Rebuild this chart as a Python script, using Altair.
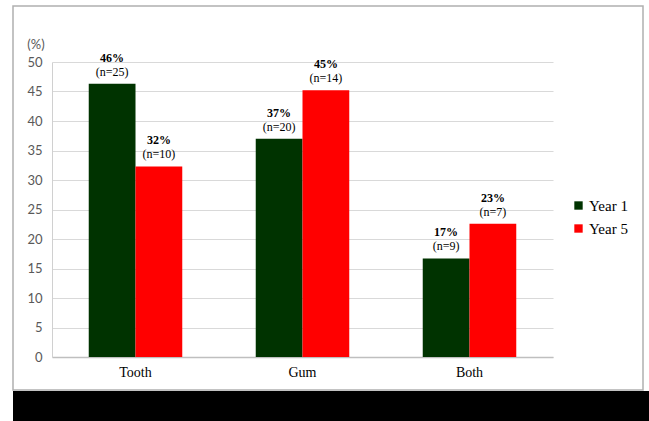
import altair as alt
import pandas as pd

categories = ["Tooth", "Gum", "Both"]
series = ["Year 1", "Year 5"]
year1 = [46.3, 37.0, 16.7]
year5 = [32.3, 45.2, 22.6]
year1_pct = ["46%", "37%", "17%"]
year5_pct = ["32%", "45%", "23%"]
year1_n = ["(n=25)", "(n=20)", "(n=9)"]
year5_n = ["(n=10)", "(n=14)", "(n=7)"]
colors = ["#003300", "#ff0000"]

rows = []
for i, c in enumerate(categories):
    rows.append({"cat": c, "year": "Year 1", "value": year1[i], "pct": year1_pct[i], "n": year1_n[i]})
    rows.append({"cat": c, "year": "Year 5", "value": year5[i], "pct": year5_pct[i], "n": year5_n[i]})
df = pd.DataFrame(rows)

W, H = 501, 295

x = alt.X("cat:N", sort=categories,
          scale=alt.Scale(paddingInner=0.44, paddingOuter=0.22),
          axis=alt.Axis(title=None, labelAngle=0, labelFont="Liberation Serif", labelFontSize=14,
                        labelColor="#000000", labelPadding=8, ticks=False,
                        domainColor="#bfbfbf", domainWidth=1.5, grid=False))
xo = alt.XOffset("year:N", sort=series)
y = alt.Y("value:Q", scale=alt.Scale(domain=[0, 50]),
          axis=alt.Axis(title=None, values=list(range(0, 51, 5)), labelFont="Lato", labelFontSize=13,
                        labelColor="#595959", labelPadding=10, ticks=False,
                        domainColor="#d0d0d0", gridColor="#d9d9d9", gridWidth=1.2))

frame = alt.Chart(pd.DataFrame({"k": [0]})).mark_rect(fill="transparent", stroke="#b0b0b0", strokeWidth=1.5).encode(
    x=alt.value(-39), x2=alt.value(591), y=alt.value(-56), y2=alt.value(328))
band = alt.Chart(pd.DataFrame({"k": [0]})).mark_rect(fill="black").encode(
    x=alt.value(-39), x2=alt.value(597), y=alt.value(329), y2=alt.value(360))
unit = alt.Chart(pd.DataFrame({"k": [0]})).mark_text(
    text="(%)", font="Lato", fontSize=13, color="#595959", align="center", baseline="middle").encode(
    x=alt.value(-16), y=alt.value(-17))

bars = alt.Chart(df).mark_bar().encode(
    x=x, xOffset=xo, y=y,
    color=alt.Color("year:N", sort=series, scale=alt.Scale(domain=series, range=colors),
                    legend=alt.Legend(title=None, orient="none", legendX=519, legendY=136,
                                      symbolType="square", symbolSize=70, symbolStrokeWidth=0,
                                      labelFont="Liberation Serif", labelFontSize=15,
                                      labelColor="#000000", rowPadding=7, labelOffset=3)))

pct = alt.Chart(df).mark_text(font="Liberation Serif", fontSize=12, fontWeight="bold",
                              baseline="bottom", dy=-19, color="#000000").encode(
    x=x, xOffset=xo, y=y, text="pct:N")
ntxt = alt.Chart(df).mark_text(font="Liberation Serif", fontSize=12,
                               baseline="bottom", dy=-5, color="#000000").encode(
    x=x, xOffset=xo, y=y, text="n:N")

chart = alt.layer(frame, band, unit, bars, pct, ntxt).properties(
    width=W, height=H,
    autosize=alt.AutoSizeParams(type="none"),
    padding={"left": 52, "top": 62, "right": 96, "bottom": 64},
    background="white",
).configure_view(stroke=None)

chart.save("out.html", embed_options={"renderer": "svg", "actions": False})
